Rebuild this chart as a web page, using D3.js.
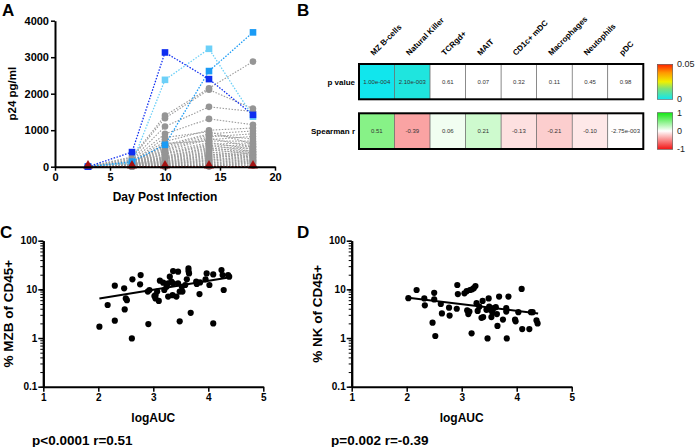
<!DOCTYPE html>
<html><head><meta charset="utf-8">
<script src="https://cdn.jsdelivr.net/npm/d3@7"></script>
<style>
body{margin:0;background:#fff;}
svg{display:block;font-family:"Liberation Sans",Arial,sans-serif;}
</style></head><body>
<svg id="chart" width="697" height="447"></svg>
<script>
// ---------------- DATA ----------------
// Panel A
const days = [3, 7, 10, 14, 18];
const dayTicks = [0, 5, 10, 15, 20];
const p24Ticks = [0, 1000, 2000, 3000, 4000];
const grayP24 = [
  [0,270,1400,2150,2880],[0,240,1330,2110,1590],[0,200,1100,1640,1510],[0,180,900,1310,1150],
  [0,150,690,1000,1060],[0,130,800,960,620],[0,120,600,900,980],[0,115,560,870,760],
  [0,110,520,820,900],[0,100,480,780,540],[0,95,450,740,830],[0,90,640,700,700],
  [0,85,420,660,480],[0,80,380,620,650],[0,75,360,590,420],[0,70,340,560,600],
  [0,66,300,520,380],[0,62,280,500,560],[0,58,260,470,340],[0,55,240,440,520],
  [0,50,230,400,300],[0,47,210,380,460],[0,44,190,350,270],[0,40,170,320,420],
  [0,37,150,300,240],[0,34,140,280,380],[0,30,120,250,200],[0,27,110,230,340],
  [0,24,95,200,170],[0,21,80,180,300],[0,18,70,160,140],[0,15,60,140,260],
  [0,12,50,110,110],[0,10,40,90,220],[0,8,30,70,80],[0,6,20,50,180],
  [0,4,15,35,50],[0,3,10,20,140],[0,2,5,10,30],[0,1,2,5,100]
];
const blueDarkP24 = [0, 400, 3130, 2400, 1420];
const blueMedP24 = [0, 140, 600, 2620, 3680];
const blueLightP24 = [0, 100, 2380, 3230, 1370];
const redP24 = [0, 0, 0, 0, 0];

// Panel B
const cellTypes = ["MZ B-cells","Natural Killer","TCRgd+","MAIT","CD1c+ mDC","Macrophages","Neutophils","pDC"];
const pValues = [1.0e-4, 2.1e-3, 0.61, 0.07, 0.32, 0.11, 0.45, 0.98];
const pLabels = ["1.00e-004","2.10e-003","0.61","0.07","0.32","0.11","0.45","0.98"];
const spearmanR = [0.51, -0.39, 0.06, 0.21, -0.13, -0.21, -0.10, -2.75e-3];
const rLabels = ["0.51","-0.39","0.06","0.21","-0.13","-0.21","-0.10","-2.75e-003"];
const rowNames = ["p value", "Spearman r"];
const pBarTicks = [0, 0.05];
const rBarTicks = [1, 0, -1];

// Panel C
const aucTicks = [1, 2, 3, 4, 5];
const pctTicks = [0.1, 1, 10, 100];
const cLogAUC = [2.02,2.17,2.30,2.30,2.47,2.50,2.48,2.52,2.61,2.62,2.77,2.76,2.90,2.91,2.93,3.04,3.04,3.07,3.10,3.12,3.18,3.20,3.24,3.27,3.27,3.33,3.35,3.36,3.36,3.42,3.45,3.45,3.48,3.52,3.48,3.53,3.58,3.61,3.64,3.64,3.65,3.68,3.78,3.79,3.84,3.95,3.97,4.02,4.09,4.09,4.24,4.26,4.28,4.36,4.38,3.02,3.30,3.85];
const cMZB = [1.71,4.77,11.9,2.27,10.5,6.5,3.88,6.0,0.98,16.1,19.7,12.7,9.0,1.94,9.7,7.6,6.5,9.0,5.8,15.1,13.7,9.7,11.3,13.3,7.1,14.4,7.6,13.3,23.8,7.1,13.3,23.1,9.0,11.3,2.2,9.0,12.3,16.1,23.8,26.9,21.3,3.3,14.4,12.9,8.0,16.1,21.3,12.3,20.3,2.0,25.0,19.7,9.7,19.7,18.2,7.3,18.2,13.9];
const cFitX = [2.02, 4.40];
const cFitY = [6.5, 17.8];

// Panel D
const dLogAUC = [2.03,2.18,2.32,2.33,2.50,2.50,2.47,2.52,2.62,2.64,2.77,2.78,2.91,2.92,2.93,3.05,3.09,3.10,3.12,3.14,3.15,3.18,3.19,3.22,3.25,3.27,3.29,3.32,3.36,3.38,3.39,3.45,3.47,3.49,3.50,3.52,3.54,3.56,3.58,3.62,3.64,3.65,3.68,3.75,3.81,3.81,3.82,3.85,3.97,3.98,4.03,4.09,4.10,4.23,4.26,4.29,4.36,4.38];
const dNK = [6.6,9.7,6.5,4.7,8.5,6.2,2.07,1.1,5.0,3.2,4.2,2.9,4.0,12.3,8.0,8.3,9.2,3.7,3.1,3.5,9.7,1.25,10.0,10.6,11.7,5.2,3.6,4.4,2.6,5.8,2.7,3.8,0.98,6.5,4.4,3.8,2.7,3.3,4.1,4.3,3.1,1.77,7.1,2.4,4.1,3.5,0.98,7.1,2.4,2.2,3.4,10.2,1.53,1.53,3.4,3.4,2.3,2.0];
const dFitX = [2.03, 4.39];
const dFitY = [6.7, 3.2];

// ---------------- DRAW ----------------
const svg = d3.select("#chart");
const FONT = '"Liberation Sans",Arial,sans-serif';

function styleAxis(g, fs) {
  g.select(".domain").attr("stroke", "#000").attr("stroke-width", 2);
  g.selectAll(".tick line").attr("stroke", "#000").attr("stroke-width", 1.5);
  g.selectAll(".tick text").attr("fill", "#000").attr("font-size", fs).attr("font-weight", "bold").attr("font-family", FONT);
}
function panelLabel(t, x, y) {
  svg.append("text").attr("x", x).attr("y", y).attr("font-size", 17).attr("font-weight", "bold").text(t);
}

// ===== Panel A =====
const xA = d3.scaleLinear().domain([0, 20]).range([55, 275]);
const yA = d3.scaleLinear().domain([0, 4000]).range([166.7, 20.7]);
const gA = svg.append("g");
const lineA = d3.line().x((d, i) => xA(days[i])).y(d => yA(d));

grayP24.forEach(s => {
  gA.append("path").attr("d", lineA(s)).attr("fill", "none").attr("stroke", "#9a9a9a")
    .attr("stroke-width", 1.1).attr("stroke-dasharray", "1.5,1.5");
});
grayP24.forEach(s => {
  gA.selectAll(null).data(s).enter().append("circle")
    .attr("cx", (d, i) => xA(days[i])).attr("cy", d => yA(d)).attr("r", 3.3).attr("fill", "#959595");
});
const blues = [[blueLightP24, "#6cd0f8"], [blueMedP24, "#1a9bf5"], [blueDarkP24, "#0f2ef0"]];
blues.forEach(([s, c]) => {
  gA.append("path").attr("d", lineA(s)).attr("fill", "none").attr("stroke", c)
    .attr("stroke-width", 1.3).attr("stroke-dasharray", "1.5,1.5");
});
blues.forEach(([s, c]) => {
  gA.selectAll(null).data(s).enter().append("rect")
    .attr("x", (d, i) => xA(days[i]) - 3.3).attr("y", d => yA(d) - 3.3)
    .attr("width", 6.6).attr("height", 6.6).attr("fill", c);
});
gA.append("path").attr("d", lineA(redP24)).attr("fill", "none").attr("stroke", "#c01818")
  .attr("stroke-width", 1.3).attr("stroke-dasharray", "2,1.5");
gA.selectAll(null).data(redP24).enter().append("path")
  .attr("d", d3.symbol(d3.symbolTriangle, 42))
  .attr("transform", (d, i) => `translate(${xA(days[i])},${yA(d) - 1})`)
  .attr("fill", "#a51212");

const axAx = svg.append("g").attr("transform", "translate(0,166.7)")
  .call(d3.axisBottom(xA).tickValues(dayTicks).tickSize(4).tickSizeOuter(0).tickPadding(3));
styleAxis(axAx, 11);
const axAy = svg.append("g").attr("transform", "translate(55,0)")
  .call(d3.axisLeft(yA).tickValues(p24Ticks).tickFormat(d3.format("d")).tickSize(4).tickSizeOuter(0).tickPadding(2));
styleAxis(axAy, 11);
svg.append("text").attr("x", 165).attr("y", 201).attr("text-anchor", "middle")
  .attr("font-size", 12).attr("font-weight", "bold").text("Day Post Infection");
svg.append("text").attr("transform", "translate(16,93.7) rotate(-90)").attr("text-anchor", "middle")
  .attr("font-size", 11.5).attr("font-weight", "bold").text("p24 pg/ml");
panelLabel("A", 2, 16);

// ===== Panel B =====
const xB = d3.scaleBand().domain(cellTypes).range([359, 643.3]);
const rowY = d3.scaleOrdinal().domain(rowNames).range([[64, 99.3], [113.3, 149]]);
const pColor = d3.scaleLinear().domain([0, 0.015, 0.025, 0.038, 0.05])
  .range(["#10e6ee", "#7de27a", "#f0f000", "#ff9900", "#ff2200"]).clamp(true);
const rColor = d3.scaleLinear().domain([-1, 0, 1]).range(["#f21414", "#ffffff", "#14e614"]);
const gB = svg.append("g");

function heatRow(vals, labels, colorFn, row) {
  const [y0, y1] = rowY(row);
  gB.selectAll(null).data(vals).enter().append("rect")
    .attr("x", (d, i) => xB(cellTypes[i])).attr("y", y0)
    .attr("width", xB.bandwidth()).attr("height", y1 - y0)
    .attr("fill", d => colorFn(d)).attr("stroke", "#666").attr("stroke-width", 0.6);
  gB.selectAll(null).data(labels).enter().append("text")
    .attr("x", (d, i) => xB(cellTypes[i]) + xB.bandwidth() / 2).attr("y", (y0 + y1) / 2 + 2)
    .attr("text-anchor", "middle").attr("font-size", 6).attr("fill", "#333").text(d => d);
  gB.append("rect").attr("x", xB.range()[0]).attr("y", y0)
    .attr("width", xB.range()[1] - xB.range()[0]).attr("height", y1 - y0)
    .attr("fill", "none").attr("stroke", "#000").attr("stroke-width", 2);
  gB.append("text").attr("x", 355).attr("y", (y0 + y1) / 2 + 3).attr("text-anchor", "end")
    .attr("font-size", 8).attr("font-weight", "bold").text(row);
}
heatRow(pValues, pLabels, d => d > 0.05 ? "#ffffff" : pColor(d), rowNames[0]);
heatRow(spearmanR, rLabels, d => rColor(d), rowNames[1]);

gB.selectAll(null).data(cellTypes).enter().append("text")
  .attr("transform", d => `translate(${xB(d) + xB.bandwidth() / 2 - 3},${56}) rotate(-45)`)
  .attr("font-size", 8).attr("font-weight", "bold").text(d => d);

// color bars
const defs = svg.append("defs");
const gp = defs.append("linearGradient").attr("id", "gp").attr("x1", 0).attr("y1", 1).attr("x2", 0).attr("y2", 0);
pColor.domain().forEach(v => gp.append("stop").attr("offset", v / 0.05).attr("stop-color", pColor(v)));
const gr = defs.append("linearGradient").attr("id", "gr").attr("x1", 0).attr("y1", 1).attr("x2", 0).attr("y2", 0);
rColor.domain().forEach(v => gr.append("stop").attr("offset", (v + 1) / 2).attr("stop-color", rColor(v)));

const pBar = d3.scaleLinear().domain([0, 0.05]).range([99.3, 64.3]);
const rBar = d3.scaleLinear().domain([-1, 1]).range([149.3, 112.7]);
svg.append("rect").attr("x", 657.3).attr("y", pBar(0.05)).attr("width", 15.4).attr("height", pBar(0) - pBar(0.05))
  .attr("fill", "url(#gp)").attr("stroke", "#555").attr("stroke-width", 0.6);
svg.append("rect").attr("x", 657.3).attr("y", rBar(1)).attr("width", 15.4).attr("height", rBar(-1) - rBar(1))
  .attr("fill", "url(#gr)").attr("stroke", "#555").attr("stroke-width", 0.6);
svg.selectAll(null).data(pBarTicks).enter().append("text")
  .attr("x", 677).attr("y", d => pBar(d)).attr("dy", "0.35em")
  .attr("font-size", 9).attr("fill", "#222").text(d => String(d));
svg.selectAll(null).data(rBarTicks).enter().append("text")
  .attr("x", 677).attr("y", d => rBar(d)).attr("dy", "0.35em")
  .attr("font-size", 9).attr("fill", "#222").text(d => String(d));
panelLabel("B", 297, 16);

// ===== Panels C & D =====
function scatterPanel(x0, xs, ys, fitX, fitY, ytitle, stat, titleX, statX, letterX) {
  const x = d3.scaleLinear().domain([1, 5]).range([x0, x0 + 220]);
  const y = d3.scaleLog().domain([0.1, 100]).range([386.7, 240.7]);
  const g = svg.append("g");
  const minor = [];
  [0.1, 1, 10].forEach(b => { for (let k = 1; k <= 10; k++) minor.push(+(b * k).toPrecision(3)); });
  const ym = svg.append("g").attr("transform", `translate(${x0},0)`)
    .call(d3.axisLeft(y).tickValues(minor).tickFormat("").tickSize(3).tickSizeOuter(0));
  styleAxis(ym, 10);
  ym.selectAll(".tick line").attr("stroke-width", 1);
  const yM = svg.append("g").attr("transform", `translate(${x0},0)`)
    .call(d3.axisLeft(y).tickValues(pctTicks).tickFormat(d => String(d)).tickSize(5).tickSizeOuter(0).tickPadding(1));
  styleAxis(yM, 10);
  const xa = svg.append("g").attr("transform", "translate(0,386.7)")
    .call(d3.axisBottom(x).tickValues(aucTicks).tickFormat(d3.format("d")).tickSize(5).tickSizeOuter(0).tickPadding(2));
  styleAxis(xa, 10);
  g.selectAll(null).data(xs).enter().append("circle")
    .attr("cx", d => x(d)).attr("cy", (d, i) => y(ys[i])).attr("r", 3.1).attr("fill", "#000");
  g.append("line").attr("x1", x(fitX[0])).attr("y1", y(fitY[0])).attr("x2", x(fitX[1])).attr("y2", y(fitY[1]))
    .attr("stroke", "#000").attr("stroke-width", 2);
  svg.append("text").attr("x", x0 + 110).attr("y", 422).attr("text-anchor", "middle")
    .attr("font-size", 12).attr("font-weight", "bold").text("logAUC");
  svg.append("text").attr("transform", `translate(${titleX},313.7) rotate(-90)`).attr("text-anchor", "middle")
    .attr("font-size", 13.5).attr("font-weight", "bold").text(ytitle);
  svg.append("text").attr("x", statX).attr("y", 445).attr("font-size", 13.5).attr("font-weight", "bold").text(stat);
  panelLabel(letterX[0], letterX[1], 238);
}
scatterPanel(43.3, cLogAUC, cMZB, cFitX, cFitY, "% MZB of CD45+", "p<0.0001 r=0.51", 13, 32, ["C", 0]);
scatterPanel(351.7, dLogAUC, dNK, dFitX, dFitY, "% NK of CD45+", "p=0.002 r=-0.39", 322, 331, ["D", 297]);
</script>
</body></html>
